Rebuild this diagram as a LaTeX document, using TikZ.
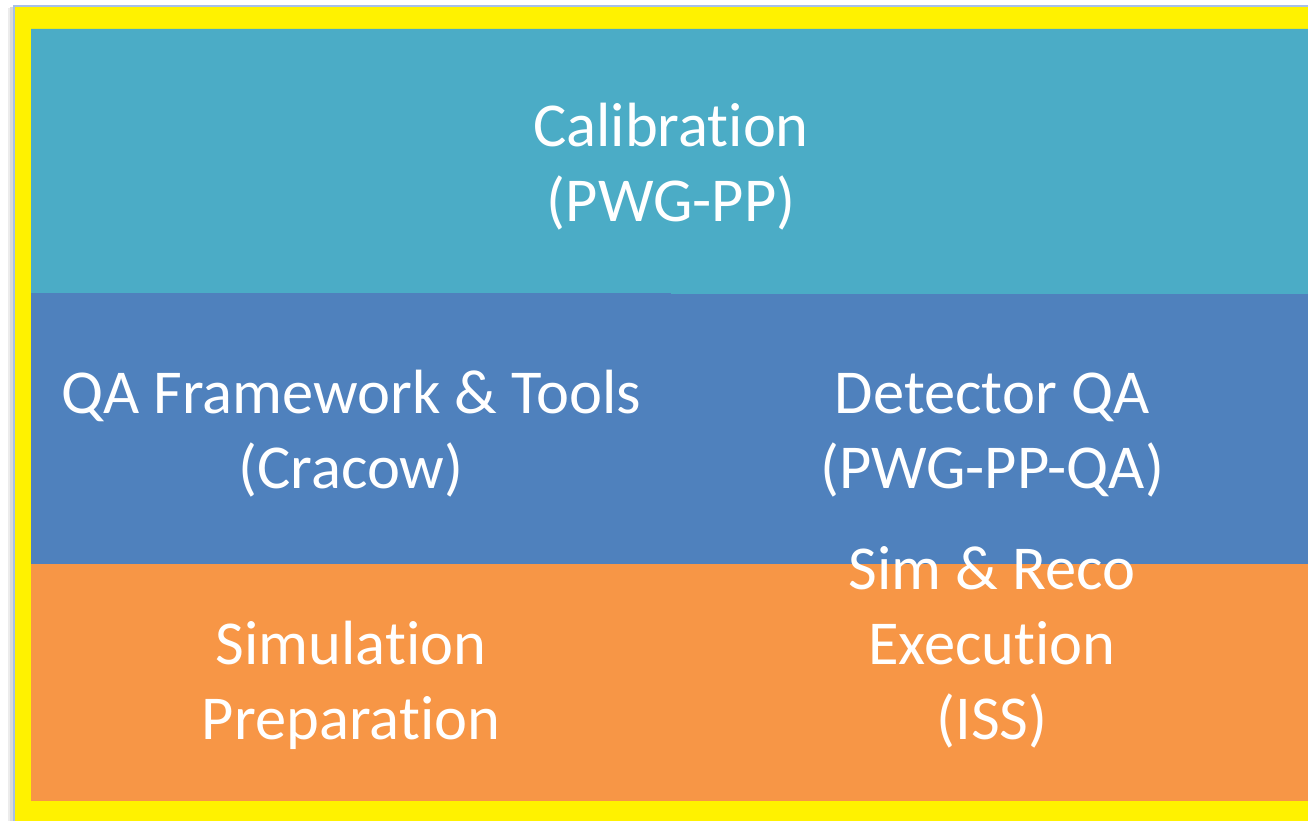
\documentclass[tikz,border=0pt]{standalone}
\usepackage{fontspec}
\setmainfont{Carlito}[Ligatures=NoCommon]
\definecolor{calib}{HTML}{4BACC6}
\definecolor{qa}{HTML}{4F81BD}
\definecolor{sim}{HTML}{F79646}
\definecolor{frameline}{HTML}{A7C0E8}
\definecolor{shadow}{HTML}{DADADA}
\begin{document}
\begin{tikzpicture}[x=1pt,y=-1pt,
  band/.style={draw=none},
  label/.style={text=white,align=center,inner sep=0pt,anchor=base,
    font=\fontsize{62.5}{75}\selectfont}]
\useasboundingbox (0,0) rectangle (1308,821);
\fill[white] (0,0) rectangle (1308,821);
\fill[shadow!50] (8,8) rectangle (13,821);
\fill[shadow] (10,7) rectangle (13,821);
\fill[frameline] (13,5) rectangle (1308,821);
\fill[yellow] (15,7) rectangle (1308,821);
\fill[calib,band] (31,29) rectangle (671,293) (671,29) rectangle (1308,294);
\fill[qa,band] (31,293) rectangle (671,294);
\fill[qa,band] (31,294) rectangle (1308,564);
\fill[sim,band] (31,564) rectangle (1308,801);
\node[label] (calibration) at (671,222) {Calibration\\(PWG-PP)};
\node[label] (qaframework) at (351,488) {QA Framework \& Tools\\(Cracow)};
\node[label] (detectorqa) at (992,488) {Detector QA\\(PWG-PP-QA)};
\node[label] (simprep) at (351,739) {Simulation\\Preparation};
\node[label] (simreco) at (992,739) {Sim \& Reco\\Execution\\(ISS)};
\end{tikzpicture}
\end{document}
